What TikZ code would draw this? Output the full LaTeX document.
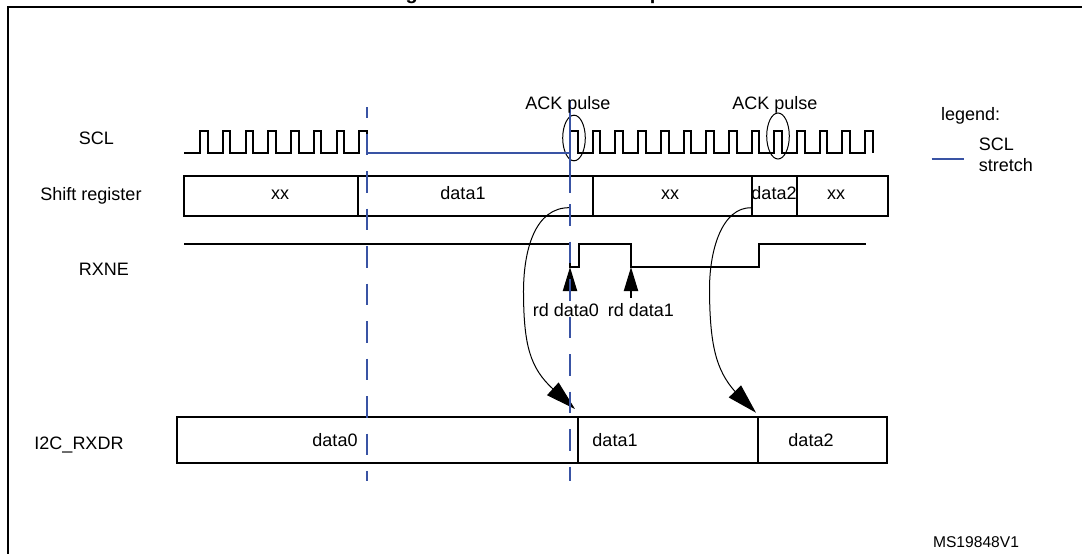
\documentclass[tikz,border=0pt]{standalone}
\usepackage{fontspec}
\setmainfont{Liberation Sans}
\usetikzlibrary{arrows.meta}
\definecolor{stretchblue}{HTML}{3953A4}
\tikzset{
  sig/.style={line width=2pt,line join=miter},
  cell/.style={line width=2pt},
  stretch/.style={line width=2.2pt,stretchblue},
  bar/.style={stretch,dash pattern=on 21.5pt off 16pt},
  ack/.style={line width=1pt},
  hop/.style={line width=1pt},
  lbl/.style={inner sep=0pt,text height=13pt,text depth=0pt,font=\fontsize{18}{21}\selectfont},
}
\begin{document}
\begin{tikzpicture}[x=1pt,y=-1pt]
      \useasboundingbox (0,0) rectangle (1082,554);
      % frame, cut off by the page
      \draw[line width=2.2pt] (7.6,554) -- (7.6,6.8) -- (1082,6.8);
      \begin{scope}
        \clip (0,0) rectangle (1082,554);
        \node[anchor=base,inner sep=0pt,font=\fontsize{20}{24}\selectfont\bfseries] (titleg) at (411.7,-0.7) {g};
        \node[anchor=base,inner sep=0pt,font=\fontsize{20}{24}\selectfont\bfseries] (titlep) at (656,-0.7) {p};
      \end{scope}

      % SCL
      \draw[sig] (184,152.6)
        foreach \i in {0,...,7} {
          -- ({200+22.75*\i},152.6) -- ({200+22.75*\i},130.6)
          -- ({207.7+22.75*\i},130.6) -- ({207.7+22.75*\i},152.6)
        };
      \draw[sig] (570,152.6)
        foreach \i in {0,...,13} {
          -- ({570+22.7*\i},152.6) -- ({570+22.7*\i},130.6)
          -- ({577.7+22.7*\i},130.6) -- ({577.7+22.7*\i},152.6)
        };
      \draw[ack] (574,138) ellipse (11.3 and 22.8);
      \draw[ack] (778,136) ellipse (11.3 and 23);

      % shift register
      \draw[cell] (184,176) rectangle (358,216) rectangle (592.7,176)
        rectangle (752,216) rectangle (796.7,176) rectangle (888,216);

      % RXNE
      \draw[sig] (184,243.7) -- (570,243.7) |- (578.5,267) |- (631,243.7)
        |- (759,267) |- (866,243.7);
      \draw[sig,-{Triangle[length=24pt,width=14pt]}] (570,298) -- (570,267);
      \draw[sig,-{Triangle[length=24pt,width=14pt]}] (631,298) -- (631,267);

      % I2C_RXDR
      \draw[cell] (176.7,416.7) rectangle (578,463.3) rectangle (758,416.7)
        rectangle (887,463.3);

      % transfers to I2C_RXDR
      \coordinate (from0) at (570,207.7);
      \coordinate (to0) at (575,409);
      \coordinate (from2) at (751.7,207.7);
      \coordinate (to2) at (756,412.7);
      \draw[hop] (from0) .. controls (535,207) and (523,250) .. (523.5,295)
        .. controls (524,345) and (530,368) .. (553,389);
      \draw[hop,-{Triangle[length=30pt,width=17pt]}] (553,389) -- (to0);
      \draw[hop] (from2) .. controls (722,207) and (709,250) .. (709.5,292)
        .. controls (710,345) and (716,370) .. (735,391.5);
      \draw[hop,-{Triangle[length=30pt,width=17pt]}] (735,391.5) -- (to2);

      % stretch
      \draw[stretch] (367,152.6) -- (570,152.6);
      \draw[stretch] (570,100) -- (570,193);
      \draw[bar,dash phase=11pt] (367,107) -- (367,481);
      \draw[bar] (570,204) -- (570,481);
      \draw[stretch] (931.7,159) -- (964,159);

      \node[lbl] (scl) at (96.4,137.5) {SCL};
      \node[lbl] (shift) at (91,194) {Shift register};
      \node[lbl] (rxne) at (104,268.5) {RXNE};
      \node[lbl] (rxdr) at (79,443) {I2C\_RXDR};

      \node[lbl] (xxa) at (280,192.5) {xx};
      \node[lbl] (dataa) at (463,192.5) {data1};
      \node[lbl] (xxb) at (670,192.5) {xx};
      \node[lbl] (datab) at (774,192.5) {data2};
      \node[lbl] (xxc) at (836,192.5) {xx};

      \node[lbl] (ackl) at (568,102.5) {ACK pulse};
      \node[lbl] (ackr) at (775,102.5) {ACK pulse};
      \node[lbl] (rdl) at (566,309.5) {rd data0};
      \node[lbl] (rdr) at (641,309.5) {rd data1};

      \node[lbl] (regl) at (335,440) {data0};
      \node[lbl] (regm) at (615,440) {data1};
      \node[lbl] (regr) at (811,440) {data2};

      \node[lbl] (lega) at (970.7,114) {legend:};
      \node[lbl,anchor=west] (legb) at (978.7,144) {SCL};
      \node[lbl,anchor=west] (legc) at (978.7,165) {stretch};
      \node[lbl,font=\fontsize{15.6}{18}\selectfont,text height=11pt] (code) at (976,541.5) {MS19848V1};
\end{tikzpicture}
\end{document}
